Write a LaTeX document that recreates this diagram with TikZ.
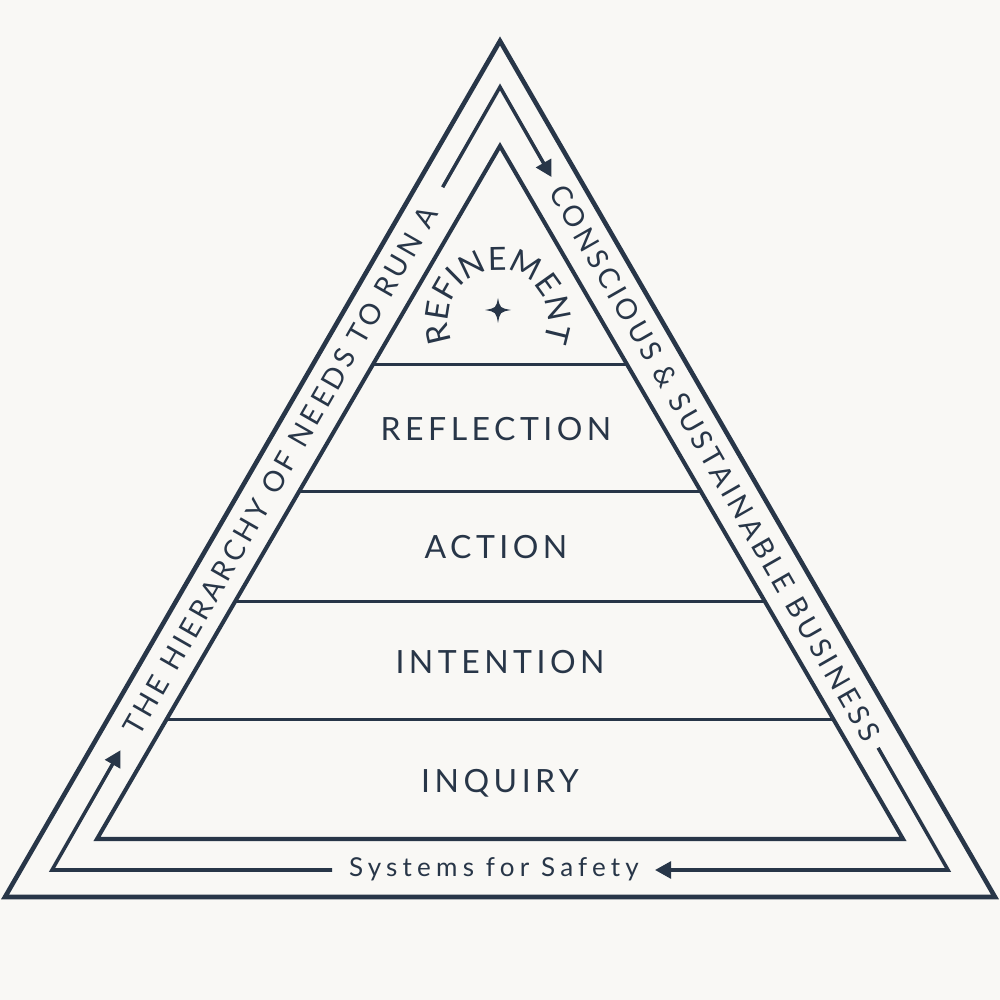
\documentclass[tikz,border=0pt]{standalone}
\usepackage{fontspec}
\setmainfont{Lato}
\newfontfamily\tierfont{Lato}[LetterSpace=14]
\newfontfamily\safetyfont{Lato}[LetterSpace=20]
\newfontfamily\arcfont{Lato}
\usepackage{tikz}
\usetikzlibrary{arrows.meta,calc,decorations.text}
\definecolor{ink}{HTML}{283648}
\definecolor{paper}{HTML}{F9F8F5}

\begin{document}
\begin{tikzpicture}[x=0.01cm, y=0.01cm, ink,
  tier/.style={font=\tierfont\fontsize{9.1}{11}\selectfont, anchor=base, text=ink},
  side/.style={font=\tierfont\fontsize{8.1}{10}\selectfont, text=ink, inner sep=0pt},
  flow/.style={line width=1pt, -{Triangle[length=4.6pt, width=4.8pt]}},
  rung/.style={line width=0.85pt}]
\useasboundingbox (0,0) rectangle (1000,1000);
\fill[paper] (0,0) rectangle (1000,1000);
% outer frame
\coordinate (ot) at (500,959);
\coordinate (ol) at (5,103);
\coordinate (or) at (995,103);
\draw[line width=1.3pt] (ot) -- (ol) -- (or) -- cycle;
% pyramid
\coordinate (it) at (500,854);
\coordinate (il) at (97,161);
\coordinate (ir) at (903,161);
\draw[line width=1.15pt] (it) -- (il) -- (ir) -- cycle;
\draw[rung] ($(it)!0.316!(il)$) -- ($(it)!0.316!(ir)$);
\draw[rung] ($(it)!0.498!(il)$) -- ($(it)!0.498!(ir)$);
\draw[rung] ($(it)!0.658!(il)$) -- ($(it)!0.658!(ir)$);
\draw[rung] ($(it)!0.828!(il)$) -- ($(it)!0.828!(ir)$);
\node[tier] (reflection) at (496,559) {REFLECTION};
\node[tier] (action) at (496,441) {ACTION};
\node[tier] (intention) at (500,326) {INTENTION};
\node[tier] (inquiry) at (500,207) {INQUIRY};
% top tier
\path[decorate, decoration={text along path, text align=center,
  text={|\arcfont\fontsize{9.1}{11}\selectfont\color{ink}|REFINEMENT}}]
  (498,680) ++(200:50) arc[start angle=200, end angle=-20, radius=50];
\fill (498,702) .. controls (500,692) .. (511,690) .. controls (500,688) .. (498,677)
  .. controls (496,688) .. (485,690) .. controls (496,692) .. cycle;
% cycle round the pyramid
\coordinate (mt) at (500,913);
\coordinate (ml) at (52,130);
\coordinate (mr) at (948,130);
\coordinate (lend) at ($(mt)!0.128!(ml)$);
\coordinate (rtip) at ($(mt)!0.115!(mr)$);
\coordinate (rstart) at ($(mt)!0.844!(mr)$);
\coordinate (btip) at (655,130);
\coordinate (bstart) at (332,130);
\coordinate (ltip) at ($(ml)!0.153!(mt)$);
\draw[flow] (lend) -- (mt) -- (rtip);
\draw[flow] (rstart) -- (mr) -- (btip);
\draw[flow] (bstart) -- (ml) -- (ltip);
\node[side, rotate=60.2] (needs) at ($(ml)!0.51!(mt)$) {THE HIERARCHY OF NEEDS TO RUN A};
\node[side, rotate=-60.2] (business) at ($(mt)!0.48!(mr)$) {CONSCIOUS \& SUSTAINABLE BUSINESS};
\node[font=\safetyfont\fontsize{7.4}{9}\selectfont, anchor=base, text=ink] (safety) at (494,123) {Systems for Safety};
\end{tikzpicture}
\end{document}
